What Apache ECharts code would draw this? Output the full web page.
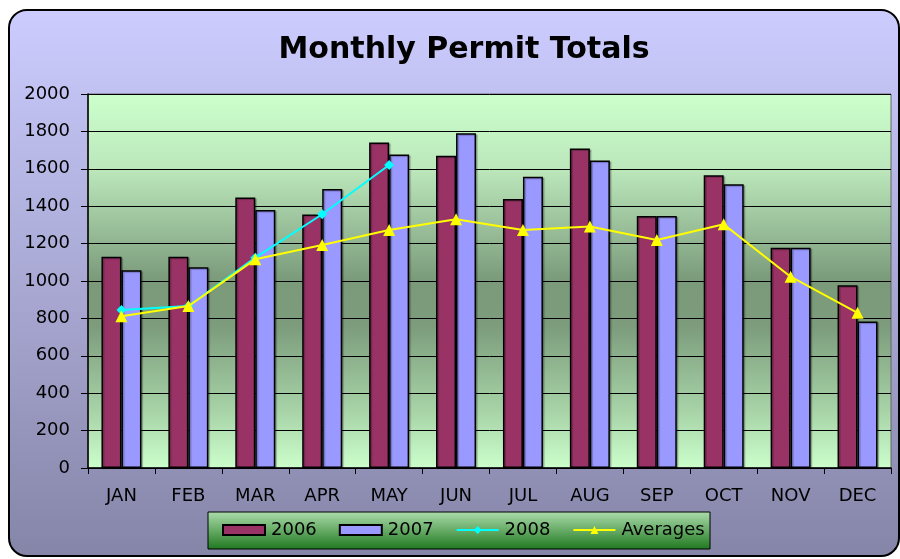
<!DOCTYPE html>
<html>
<head>
<meta charset="utf-8">
<script src="https://cdn.jsdelivr.net/npm/echarts@6/dist/echarts.min.js"></script>
<style>
html,body{margin:0;padding:0;background:#ffffff;}
#chart{width:900px;height:559px;}
</style>
</head>
<body>
<div id="chart"></div>
<script>
const months = ['JAN','FEB','MAR','APR','MAY','JUN','JUL','AUG','SEP','OCT','NOV','DEC'];
const values2006 = [1130,1130,1446,1355,1741,1670,1438,1709,1348,1565,1178,977];
const values2007 = [1057,1073,1380,1492,1677,1790,1558,1645,1348,1517,1178,784];
const values2008 = [845,866,1125,1357,1620];
const averages = [812,866,1116,1192,1273,1330,1273,1291,1219,1303,1023,830];
const yTicks = [0,200,400,600,800,1000,1200,1400,1600,1800,2000];

const FONT = 'DejaVu Sans';
const chart = echarts.init(document.getElementById('chart'), null, {renderer:'canvas'});

const barShadow = {shadowColor:'rgba(0,0,0,0.25)', shadowBlur:1, shadowOffsetX:1.5, shadowOffsetY:1};

chart.setOption({
  animation:false,
  graphic:[
    {type:'rect', z:-10, shape:{x:9,y:10,width:890,height:546,r:18},
     style:{fill:new echarts.graphic.LinearGradient(0,0,0,1,[{offset:0,color:'#ccccff'},{offset:1,color:'#8585a8'}]),
            stroke:'#000', lineWidth:2}},
    {type:'rect', z:-5, shape:{x:208,y:512,width:502,height:37},
     style:{fill:new echarts.graphic.LinearGradient(0,0,0,1,[{offset:0,color:'#acdcac'},{offset:1,color:'#1f781f'}]),
            stroke:'#000', lineWidth:1}}
  ],
  title:{
    text:'Monthly Permit Totals', left:459, top:30, textAlign:'center',
    textStyle:{fontFamily:FONT, fontWeight:'bold', fontSize:30, color:'#000'}
  },
  legend:{
    left:222, top:512, height:37, itemWidth:42, itemHeight:10, itemGap:22,
    padding:[9,0,9,0],
    textStyle:{fontFamily:FONT, fontSize:18, color:'#000', padding:[0,0,0,1]},
    data:[{name:'2006', icon:'rect'},{name:'2007', icon:'rect'},{name:'2008'},{name:'Averages'}]
  },
  grid:{
    left:88, right:9, top:94, bottom:91, containLabel:false, show:true,
    backgroundColor:new echarts.graphic.LinearGradient(0,0,0,1,[
      {offset:0,color:'#ccffcc'},{offset:0.2,color:'#bce8bc'},{offset:0.5,color:'#7a9a7a'},
      {offset:0.62,color:'#7c9c7c'},{offset:0.85,color:'#a8d4a8'},{offset:1,color:'#ccffcc'}]),
    borderColor:'#666', borderWidth:1
  },
  xAxis:{
    type:'category', data:months, boundaryGap:true,
    axisLine:{lineStyle:{color:'#000', width:1.5}},
    axisTick:{show:true, inside:false, length:6, alignWithLabel:false, lineStyle:{color:'#000'}},
    axisLabel:{fontFamily:FONT, fontSize:18, color:'#000', margin:19},
    splitLine:{show:false}
  },
  yAxis:{
    type:'value', min:0, max:2000, interval:200,
    axisLine:{show:true, lineStyle:{color:'#000', width:1.5}},
    axisTick:{show:true, length:7, lineStyle:{color:'#000'}},
    axisLabel:{fontFamily:FONT, fontSize:18, color:'#000', margin:18,
      formatter:function(v){return yTicks.indexOf(v)>=0 ? String(v) : '';}},
    splitLine:{show:true, lineStyle:{color:'#000', width:1}}
  },
  series:[
    {name:'2006', type:'bar', data:values2006, barWidth:20, barGap:'0%',
     itemStyle:Object.assign({color:'#993366', borderColor:'#000', borderWidth:1.5}, barShadow)},
    {name:'2007', type:'bar', data:values2007, barWidth:20, barGap:'0%',
     itemStyle:Object.assign({color:'#9999ff', borderColor:'#000', borderWidth:1.5}, barShadow)},
    {name:'2008', type:'line', data:values2008, symbol:'diamond', symbolSize:10,
     lineStyle:{color:'#00ffff', width:2}, itemStyle:{color:'#00ffff'}, z:5},
    {name:'Averages', type:'line', data:averages, symbol:'triangle', symbolSize:12,
     lineStyle:{color:'#ffff00', width:2}, itemStyle:{color:'#ffff00'}, z:6}
  ]
});
</script>
</body>
</html>
